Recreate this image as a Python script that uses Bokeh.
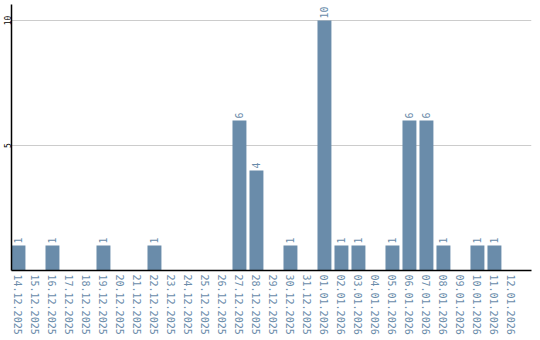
import math
from bokeh.plotting import figure
from bokeh.models import Range1d, FixedTicker, ColumnDataSource
from bokeh.core.properties import value
from bokeh.embed import file_html
from bokeh.resources import INLINE

dates = ["14.12.2025", "15.12.2025", "16.12.2025", "17.12.2025", "18.12.2025",
         "19.12.2025", "20.12.2025", "21.12.2025", "22.12.2025", "23.12.2025",
         "24.12.2025", "25.12.2025", "26.12.2025", "27.12.2025", "28.12.2025",
         "29.12.2025", "30.12.2025", "31.12.2025", "01.01.2026", "02.01.2026",
         "03.01.2026", "04.01.2026", "05.01.2026", "06.01.2026", "07.01.2026",
         "08.01.2026", "09.01.2026", "10.01.2026", "11.01.2026", "12.01.2026"]
counts = [1, 0, 1, 0, 0, 1, 0, 0, 1, 0,
          0, 0, 0, 6, 4, 0, 1, 0, 10, 1,
          1, 0, 1, 6, 6, 1, 0, 1, 1, 0]
y_ticks = [5, 10]

BAR = "#6a8caa"
FONT = "DejaVu Sans Mono"

xs = list(range(len(dates)))
src = ColumnDataSource(dict(x=xs, top=counts))
nz = [i for i, c in enumerate(counts) if c > 0]
lab = ColumnDataSource(dict(x=[xs[i] for i in nz], y=[counts[i] for i in nz],
                            t=[str(counts[i]) for i in nz]))

p = figure(width=540, height=340, output_backend="svg", toolbar_location=None,
           x_range=Range1d(-0.41, 30.18), y_range=Range1d(0, 10.64),
           min_border_left=0, min_border_right=9, min_border_top=4, min_border_bottom=70)
p.outline_line_color = None
p.background_fill_color = "white"

p.vbar(x="x", top="top", width=0.82, source=src, color=BAR, line_color=None)
p.text(x="x", y="y", text="t", source=lab, angle=math.pi / 2, x_offset=0, y_offset=-2,
       text_align="left", text_baseline="middle", text_color=BAR,
       text_font=value(FONT), text_font_size="10px")

xa = p.xaxis[0]
xa.ticker = FixedTicker(ticks=xs)
xa.major_label_overrides = {i: d for i, d in enumerate(dates)}
xa.major_label_orientation = "vertical"
xa.major_label_text_color = BAR
xa.major_label_text_font = FONT
xa.major_label_text_font_size = "10px"
xa.major_tick_line_color = None
xa.minor_tick_line_color = None
xa.major_tick_out = 0
xa.major_label_standoff = 4
xa.axis_line_color = "black"
xa.axis_line_width = 1.5

ya = p.yaxis[0]
ya.ticker = FixedTicker(ticks=y_ticks)
ya.major_label_orientation = "vertical"
ya.major_label_text_color = "black"
ya.major_label_text_font = FONT
ya.major_label_text_font_size = "8px"
ya.major_tick_line_color = None
ya.minor_tick_line_color = None
ya.major_tick_out = 0
ya.major_label_standoff = 1
ya.axis_line_color = "black"
ya.axis_line_width = 1.5

p.xgrid.grid_line_color = None
p.ygrid.ticker = FixedTicker(ticks=y_ticks)
p.ygrid.grid_line_color = "#cccccc"

open("out.html", "w").write(file_html(p, INLINE))
